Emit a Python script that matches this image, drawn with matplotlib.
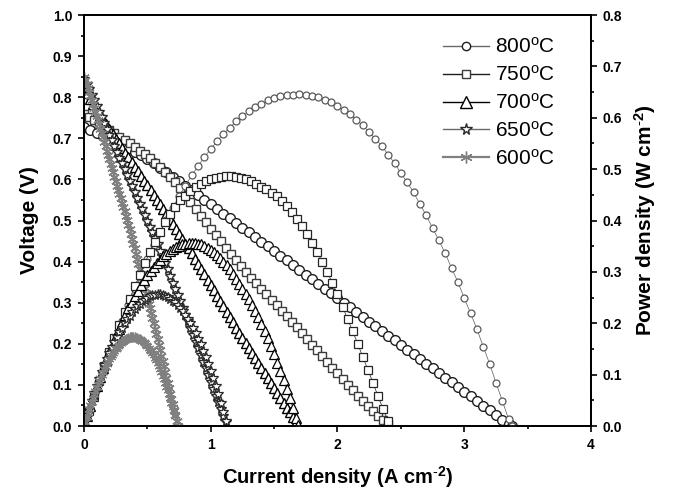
import numpy as np
import matplotlib
matplotlib.use('Agg')
import matplotlib.pyplot as plt
from matplotlib.ticker import MultipleLocator

plt.rcParams['font.family'] = ['Liberation Sans', 'DejaVu Sans']
plt.rcParams['mathtext.fontset'] = 'custom'
plt.rcParams['mathtext.rm'] = 'Liberation Sans'
plt.rcParams['mathtext.bf'] = 'Liberation Sans:bold'
plt.rcParams['mathtext.default'] = 'regular'

temperatures = ['800', '750', '700', '650', '600']

# I-V data (A cm-2, V)
current_800 = [0.00, 0.05, 0.10, 0.15, 0.20, 0.25, 0.30, 0.35, 0.40, 0.45,
               0.50, 0.55, 0.60, 0.65, 0.70, 0.75, 0.80, 0.85, 0.90, 0.95,
               1.00, 1.05, 1.10, 1.15, 1.20, 1.25, 1.30, 1.35, 1.40, 1.45,
               1.50, 1.55, 1.60, 1.65, 1.70, 1.75, 1.80, 1.85, 1.90, 1.95,
               2.00, 2.05, 2.10, 2.15, 2.20, 2.25, 2.30, 2.35, 2.40, 2.45,
               2.50, 2.55, 2.60, 2.65, 2.70, 2.75, 2.80, 2.85, 2.90, 2.95,
               3.00, 3.05, 3.10, 3.15, 3.20, 3.25, 3.30, 3.35, 3.38]
voltage_800 = [0.727, 0.720, 0.713, 0.706, 0.698, 0.691, 0.683, 0.675, 0.667, 0.659,
               0.650, 0.639, 0.628, 0.618, 0.607, 0.596, 0.585, 0.574, 0.562, 0.551,
               0.539, 0.528, 0.517, 0.505, 0.494, 0.482, 0.471, 0.460, 0.448, 0.437,
               0.425, 0.414, 0.403, 0.391, 0.380, 0.368, 0.357, 0.346, 0.334, 0.323,
               0.311, 0.300, 0.289, 0.277, 0.266, 0.254, 0.243, 0.232, 0.220, 0.209,
               0.197, 0.186, 0.175, 0.163, 0.152, 0.140, 0.129, 0.118, 0.106, 0.095,
               0.083, 0.072, 0.061, 0.049, 0.038, 0.026, 0.015, 0.004, 0.000]

current_750 = [0.00, 0.04, 0.08, 0.12, 0.16, 0.20, 0.24, 0.28, 0.32, 0.36,
               0.40, 0.44, 0.48, 0.52, 0.56, 0.60, 0.64, 0.68, 0.72, 0.76,
               0.80, 0.84, 0.88, 0.92, 0.96, 1.00, 1.04, 1.08, 1.12, 1.16,
               1.20, 1.24, 1.28, 1.32, 1.36, 1.40, 1.44, 1.48, 1.52, 1.56,
               1.60, 1.64, 1.68, 1.72, 1.76, 1.80, 1.84, 1.88, 1.92, 1.96,
               2.00, 2.04, 2.08, 2.12, 2.16, 2.20, 2.24, 2.28, 2.32, 2.36, 2.40]
voltage_750 = [0.760, 0.752, 0.744, 0.736, 0.728, 0.720, 0.712, 0.704, 0.696, 0.688,
               0.679, 0.670, 0.661, 0.651, 0.641, 0.631, 0.619, 0.606, 0.593, 0.578,
               0.560, 0.544, 0.528, 0.512, 0.496, 0.480, 0.464, 0.449, 0.434, 0.419,
               0.404, 0.389, 0.375, 0.361, 0.347, 0.333, 0.320, 0.307, 0.294, 0.281,
               0.268, 0.254, 0.240, 0.226, 0.212, 0.198, 0.184, 0.170, 0.156, 0.142,
               0.128, 0.114, 0.100, 0.087, 0.074, 0.061, 0.049, 0.037, 0.025, 0.014, 0.004]

current_700 = [0.000, 0.025, 0.050, 0.075, 0.100, 0.125, 0.150, 0.175, 0.200, 0.225,
               0.250, 0.275, 0.300, 0.325, 0.350, 0.375, 0.400, 0.425, 0.450, 0.475,
               0.500, 0.525, 0.550, 0.575, 0.600, 0.625, 0.650, 0.675, 0.700, 0.725,
               0.750, 0.775, 0.800, 0.825, 0.850, 0.875, 0.900, 0.925, 0.950, 0.975,
               1.000, 1.025, 1.050, 1.075, 1.100, 1.125, 1.150, 1.175, 1.200, 1.225,
               1.250, 1.275, 1.300, 1.325, 1.350, 1.375, 1.400, 1.425, 1.450, 1.475,
               1.500, 1.525, 1.550, 1.575, 1.600, 1.625, 1.650, 1.675, 1.690]
voltage_700 = [0.825, 0.810, 0.796, 0.783, 0.771, 0.759, 0.747, 0.735, 0.723, 0.711,
               0.699, 0.688, 0.676, 0.665, 0.654, 0.642, 0.631, 0.620, 0.608, 0.597,
               0.586, 0.574, 0.563, 0.551, 0.540, 0.528, 0.516, 0.504, 0.492, 0.480,
               0.468, 0.456, 0.444, 0.432, 0.420, 0.407, 0.394, 0.382, 0.369, 0.356,
               0.343, 0.330, 0.317, 0.304, 0.291, 0.278, 0.265, 0.252, 0.239, 0.226,
               0.214, 0.202, 0.190, 0.178, 0.166, 0.154, 0.142, 0.130, 0.118, 0.105,
               0.093, 0.081, 0.069, 0.057, 0.045, 0.033, 0.021, 0.009, 0.001]

current_650 = [0.00, 0.02, 0.04, 0.06, 0.08, 0.10, 0.12, 0.14, 0.16, 0.18,
               0.20, 0.22, 0.24, 0.26, 0.28, 0.30, 0.32, 0.34, 0.36, 0.38,
               0.40, 0.42, 0.44, 0.46, 0.48, 0.50, 0.52, 0.54, 0.56, 0.58,
               0.60, 0.62, 0.64, 0.66, 0.68, 0.70, 0.72, 0.74, 0.76, 0.78,
               0.80, 0.82, 0.84, 0.86, 0.88, 0.90, 0.92, 0.94, 0.96, 0.98,
               1.00, 1.02, 1.04, 1.06, 1.08, 1.10, 1.12]
voltage_650 = [0.845, 0.832, 0.819, 0.805, 0.792, 0.779, 0.765, 0.751, 0.737, 0.723,
               0.709, 0.695, 0.681, 0.667, 0.653, 0.639, 0.625, 0.611, 0.597, 0.583,
               0.569, 0.555, 0.541, 0.527, 0.513, 0.499, 0.485, 0.471, 0.457, 0.443,
               0.427, 0.412, 0.396, 0.381, 0.365, 0.349, 0.334, 0.318, 0.303, 0.287,
               0.271, 0.255, 0.238, 0.222, 0.205, 0.189, 0.173, 0.156, 0.140, 0.123,
               0.107, 0.091, 0.074, 0.058, 0.041, 0.025, 0.009]

current_600 = [0.00, 0.01, 0.02, 0.03, 0.04, 0.05, 0.06, 0.07, 0.08, 0.09,
               0.10, 0.11, 0.12, 0.13, 0.14, 0.15, 0.16, 0.17, 0.18, 0.19,
               0.20, 0.21, 0.22, 0.23, 0.24, 0.25, 0.26, 0.27, 0.28, 0.29,
               0.30, 0.31, 0.32, 0.33, 0.34, 0.35, 0.36, 0.37, 0.38, 0.39,
               0.40, 0.41, 0.42, 0.43, 0.44, 0.45, 0.46, 0.47, 0.48, 0.49,
               0.50, 0.51, 0.52, 0.53, 0.54, 0.55, 0.56, 0.57, 0.58, 0.59,
               0.60, 0.61, 0.62, 0.63, 0.64, 0.65, 0.66, 0.67, 0.68, 0.69,
               0.70, 0.71, 0.72, 0.73, 0.74]
voltage_600 = [0.850, 0.841, 0.831, 0.822, 0.812, 0.803, 0.793, 0.784, 0.774, 0.765,
               0.755, 0.744, 0.734, 0.723, 0.713, 0.702, 0.691, 0.681, 0.670, 0.660,
               0.649, 0.638, 0.628, 0.617, 0.607, 0.596, 0.585, 0.575, 0.564, 0.554,
               0.543, 0.532, 0.522, 0.511, 0.501, 0.490, 0.480, 0.468, 0.456, 0.444,
               0.432, 0.419, 0.407, 0.395, 0.383, 0.371, 0.359, 0.347, 0.335, 0.323,
               0.311, 0.298, 0.286, 0.274, 0.262, 0.250, 0.237, 0.224, 0.211, 0.197,
               0.184, 0.171, 0.158, 0.145, 0.132, 0.118, 0.105, 0.092, 0.079, 0.066,
               0.053, 0.040, 0.026, 0.013, 0.000]

currents = [current_800, current_750, current_700, current_650, current_600]
voltages = [voltage_800, voltage_750, voltage_700, voltage_650, voltage_600]


def series_styles():
    """Marker, colours and sizes for each temperature (V curve, power curve, legend)."""
    return [
        dict(marker='o', v_color='#1e1e1e', p_color='#5a5a5a', v_ms=7.0, p_ms=5.0,
             leg_color='#6a6a6a', leg_ms=6.0, leg_lw=1.0),
        dict(marker='s', v_color='#3c3c3c', p_color='#262626', v_ms=6.0, p_ms=5.5,
             leg_color='#1e1e1e', leg_ms=5.5, leg_lw=1.0),
        dict(marker='^', v_color='#000000', p_color='#000000', v_ms=7.0, p_ms=6.5,
             leg_color='#000000', leg_ms=8.0, leg_lw=1.0),
        dict(marker='*', v_color='#2a2a2a', p_color='#2a2a2a', v_ms=7.5, p_ms=7.0,
             leg_color='#6a6a6a', leg_ms=8.5, leg_lw=1.0),
        dict(marker=(6, 2, 0), v_color='#808080', p_color='#808080', v_ms=7.5, p_ms=7.0,
             leg_color='#808080', leg_ms=8.5, leg_lw=1.6),
    ]


def style_axis(ax, major, minor):
    ax.yaxis.set_major_locator(MultipleLocator(major))
    ax.yaxis.set_minor_locator(MultipleLocator(minor))
    ax.tick_params(which='both', direction='out', width=1.2, labelsize=10, pad=4)
    ax.tick_params(which='major', length=4.5)
    ax.tick_params(which='minor', length=2.5)
    for lab in ax.get_yticklabels() + ax.get_xticklabels():
        lab.set_fontweight('bold')


def plot_chart():
    fig = plt.figure(figsize=(6.73, 4.92), dpi=100)
    ax = fig.add_axes([0.1248, 0.1341, 0.7533, 0.8354])
    ax2 = ax.twinx()

    handles = []
    for temp, cur, volt, st in zip(temperatures, currents, voltages, series_styles()):
        cur = np.array(cur)
        volt = np.array(volt)
        power = cur * volt
        ax.plot(cur, volt, marker=st['marker'], ms=st['v_ms'], mfc='white',
                mec=st['v_color'], mew=1.0, color=st['v_color'], lw=0.5)
        ax2.plot(cur, power, marker=st['marker'], ms=st['p_ms'], mfc='white',
                 mec=st['p_color'], mew=0.9, color=st['p_color'], lw=0.5)
        h, = ax.plot([], [], marker=st['marker'], ms=st['leg_ms'], mfc='white',
                     mec=st['v_color'], mew=1.0, color=st['leg_color'], lw=st['leg_lw'],
                     label=temp + r'$^{\mathrm{o}}$C')
        handles.append(h)

    ax.set_xlim(0, 4)
    ax.set_ylim(0, 1.0)
    ax2.set_ylim(0, 0.8)
    ax.xaxis.set_major_locator(MultipleLocator(1))
    ax.xaxis.set_minor_locator(MultipleLocator(0.5))
    style_axis(ax, 0.1, 0.05)
    style_axis(ax2, 0.1, 0.05)
    ax.tick_params(axis='y', which='both', right=False)
    for a in (ax, ax2):
        for sp in a.spines.values():
            sp.set_linewidth(1.3)

    sup = r'$^{\mathbf{\text{-}2}}$'
    ax.set_xlabel('Current density (A cm' + sup + ')', fontsize=14.5, fontweight='bold', labelpad=9)
    ax.set_ylabel('Voltage (V)', fontsize=15, fontweight='bold', labelpad=10)
    ax2.set_ylabel('Power density (W cm' + sup + ')', fontsize=15, fontweight='bold', labelpad=7)

    ax2.legend(handles=handles, loc='upper left', bbox_to_anchor=(443 / 673, 1 - 37 / 492),
               bbox_transform=fig.transFigure, frameon=False, fontsize=15,
               handlelength=2.2, handletextpad=0.3, labelspacing=0.38,
               borderpad=0, borderaxespad=0)

    fig.savefig('out.png', dpi=100)


def main():
    plot_chart()


if __name__ == "__main__":
    main()
